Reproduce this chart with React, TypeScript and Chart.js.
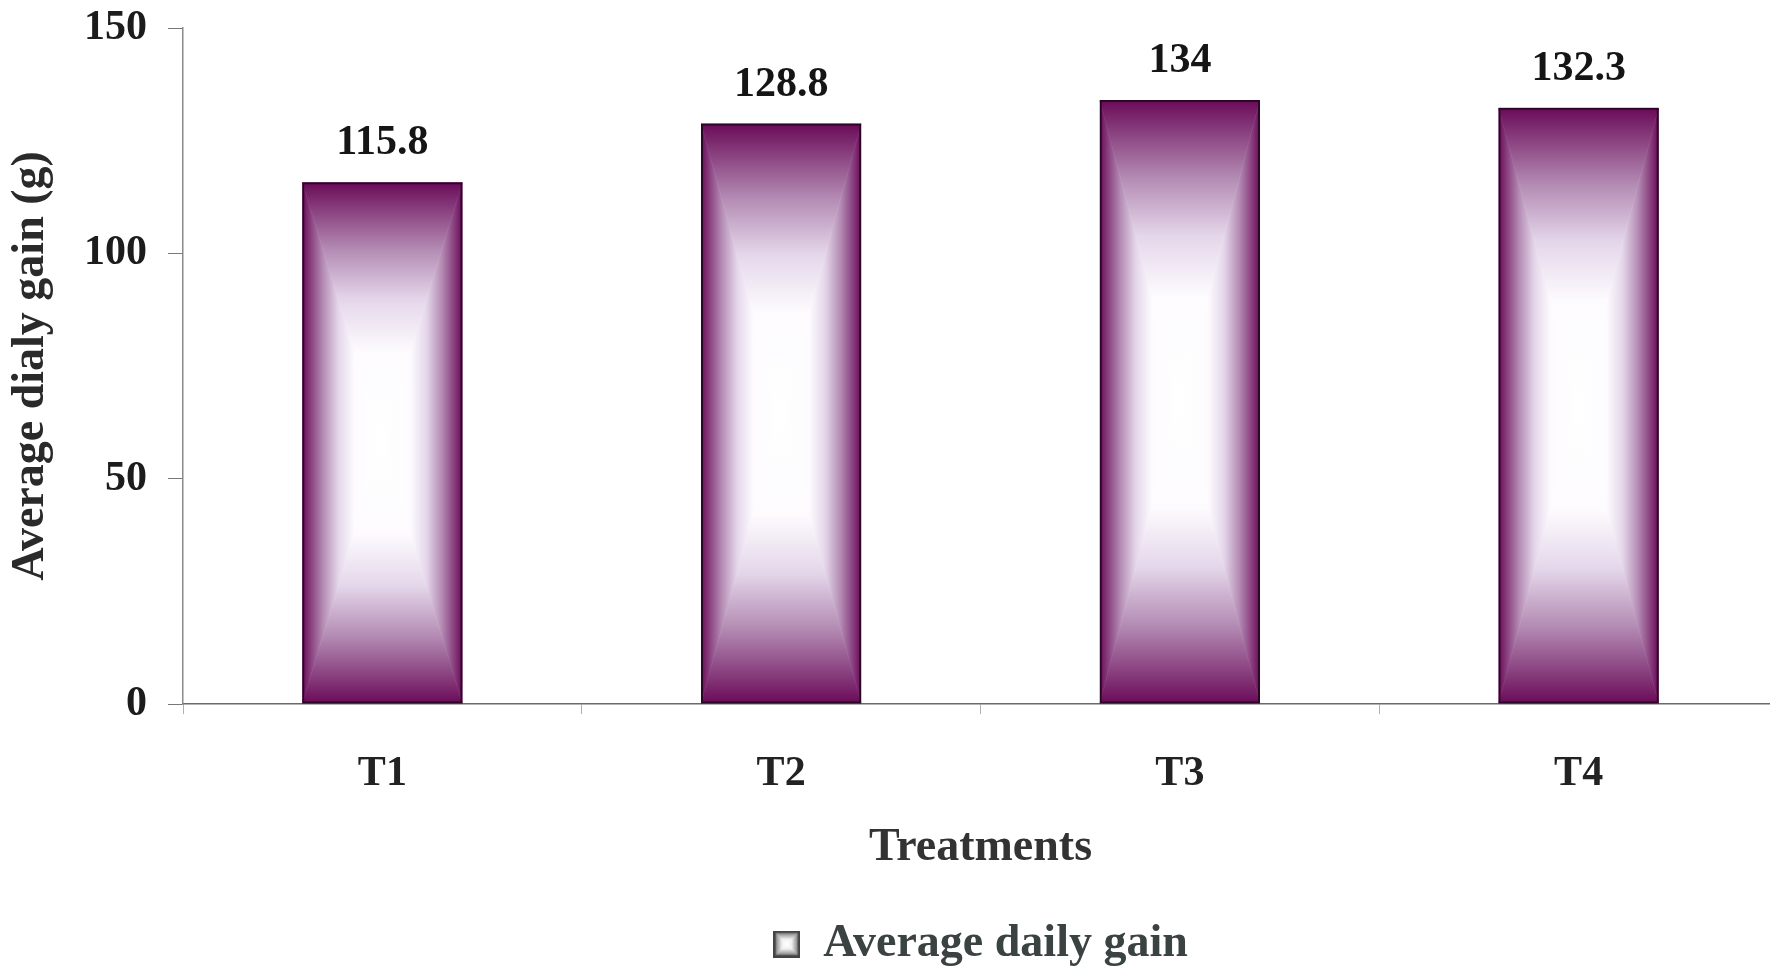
import React, { useEffect, useRef } from "react";
import { Chart, registerables } from "chart.js";

Chart.register(...registerables);

const treatments = ["T1", "T2", "T3", "T4"];
const dailyGain = [115.8, 128.8, 134, 132.3];
const yTicks = [0, 50, 100, 150];

const SERIF = "'Liberation Serif', 'Times New Roman', serif";

// colour of the "from centre" fill at normalised distance t (0 centre, 1 edge)
const gradStops: [number, string][] = [
  [0, "rgba(255,255,255,1)"],
  [0.35, "rgba(253,251,254,1)"],
  [0.55, "rgba(228,214,234,1)"],
  [0.74, "rgba(180,140,180,1)"],
  [0.89, "rgba(138,66,128,1)"],
  [1, "rgba(106,10,88,1)"],
];

function fillCentreGradient(
  ctx: CanvasRenderingContext2D,
  x0: number,
  y0: number,
  x1: number,
  y1: number,
  stops: [number, string][]
) {
  const cx = (x0 + x1) / 2;
  const cy = (y0 + y1) / 2;
  const tris: { pts: number[][]; g: [number, number, number, number] }[] = [
    { pts: [[x0, y0], [x1, y0], [cx, cy]], g: [cx, y0, cx, cy] },
    { pts: [[x0, y1], [x1, y1], [cx, cy]], g: [cx, y1, cx, cy] },
    { pts: [[x0, y0], [x0, y1], [cx, cy]], g: [x0, cy, cx, cy] },
    { pts: [[x1, y0], [x1, y1], [cx, cy]], g: [x1, cy, cx, cy] },
  ];
  ctx.save();
  ctx.beginPath();
  ctx.rect(x0, y0, x1 - x0, y1 - y0);
  ctx.clip();
  for (const tri of tris) {
    const grad = ctx.createLinearGradient(...tri.g);
    for (const [t, c] of stops) grad.addColorStop(1 - t, c);
    ctx.beginPath();
    ctx.moveTo(tri.pts[0][0], tri.pts[0][1]);
    ctx.lineTo(tri.pts[1][0], tri.pts[1][1]);
    ctx.lineTo(tri.pts[2][0], tri.pts[2][1]);
    ctx.closePath();
    ctx.fillStyle = grad;
    ctx.fill();
    ctx.strokeStyle = grad;
    ctx.lineWidth = 0.6;
    ctx.stroke();
  }
  ctx.restore();
}

function legendSwatch(): HTMLCanvasElement {
  const c = document.createElement("canvas");
  c.width = 27;
  c.height = 27;
  const ctx = c.getContext("2d")!;
  fillCentreGradient(ctx, 0, 0, 27, 27, [
    [0, "#ffffff"],
    [0.35, "#f2f2f2"],
    [0.7, "#a0a0a0"],
    [1, "#5e5e5e"],
  ]);
  ctx.strokeStyle = "#444";
  ctx.lineWidth = 2.5;
  ctx.strokeRect(1.25, 1.25, 24.5, 24.5);
  return c;
}

const barFillPlugin = {
  id: "barFill",
  beforeDatasetsDraw(chart: any) {
    const ctx = chart.ctx;
    const meta = chart.getDatasetMeta(0);
    meta.data.forEach((bar: any) => {
      const { x, y, base, width } = bar.getProps(["x", "y", "base", "width"], true);
      fillCentreGradient(ctx, x - width / 2, y, x + width / 2, base, gradStops);
    });
  },
};

const valueLabelPlugin = {
  id: "valueLabels",
  afterDatasetsDraw(chart: any) {
    const ctx = chart.ctx;
    const meta = chart.getDatasetMeta(0);
    ctx.save();
    ctx.font = `bold 42px ${SERIF}`;
    ctx.fillStyle = "#151515";
    ctx.textAlign = "center";
    ctx.textBaseline = "alphabetic";
    meta.data.forEach((bar: any, i: number) => {
      ctx.fillText(String(dailyGain[i]), bar.x, bar.y - 28);
    });
    ctx.restore();
  },
};

export default function App() {
  const ref = useRef<HTMLCanvasElement>(null);

  useEffect(() => {
    const canvas = ref.current!;
    const swatch = legendSwatch();
    const chart = new Chart(canvas, {
      type: "bar",
      data: {
        labels: treatments,
        datasets: [
          {
            label: "Average daily gain",
            data: dailyGain,
            backgroundColor: "rgba(0,0,0,0)",
            borderColor: "#2a0724",
            borderWidth: 2,
            borderSkipped: false,
            categoryPercentage: 1,
            barPercentage: 0.402,
            pointStyle: swatch as any,
          },
        ],
      },
      options: {
        responsive: false,
        devicePixelRatio: 1,
        animation: false,
        layout: { padding: { top: 28, left: 0, right: 0, bottom: 0 } },
        plugins: {
          tooltip: { enabled: false },
          legend: {
            position: "bottom",
            fullSize: false,
            labels: {
              usePointStyle: true,
              boxWidth: 27,
              boxHeight: 27,
              color: "#3a4242",
              font: { family: SERIF, size: 46, weight: "bold", lineHeight: 1 },
              padding: 2,
            },
          },
        },
        scales: {
          x: {
            grid: {
              offset: true,
              drawOnChartArea: false,
              drawTicks: true,
              tickLength: 10,
              color: "#b0b0b0",
            },
            border: { color: "#6a6a6a", width: 1.5 },
            ticks: {
              color: "#222",
              padding: 35,
              font: { family: SERIF, size: 42, weight: "bold" },
            },
            title: {
              display: true,
              text: "Treatments",
              color: "#333",
              font: { family: SERIF, size: 46, weight: "bold" },
              padding: { top: 0, bottom: 43 },
            },
            afterFit(scale: any) {
              scale.height = 215;
            },
          },
          y: {
            min: 0,
            max: 150,
            afterBuildTicks(scale: any) {
              scale.ticks = yTicks.map((v) => ({ value: v }));
            },
            grid: {
              drawOnChartArea: false,
              drawTicks: true,
              tickLength: 15,
              color: "#777",
            },
            border: { color: "#8a8a8a", width: 1.5 },
            ticks: {
              color: "#1c1c1c",
              padding: 21,
              font: { family: SERIF, size: 42, weight: "bold" },
            },
            title: {
              display: true,
              text: "Average dialy gain (g)",
              color: "#2a2a2a",
              font: { family: SERIF, size: 46, weight: "bold" },
              padding: { top: 4, bottom: 0 },
            },
            afterFit(scale: any) {
              scale.width = 183;
              scale.paddingTop = 0;
              scale.paddingBottom = 0;
            },
          },
        },
      },
      plugins: [barFillPlugin, valueLabelPlugin],
    });
    return () => chart.destroy();
  }, []);

  return (
    <div
      style={{
        position: "absolute",
        left: 0,
        top: 0,
        width: 1770,
        height: 968,
        overflow: "hidden",
        background: "#fff",
      }}
    >
      <canvas ref={ref} width={1778} height={977} style={{ width: 1778, height: 977, display: "block" }} />
    </div>
  );
}
